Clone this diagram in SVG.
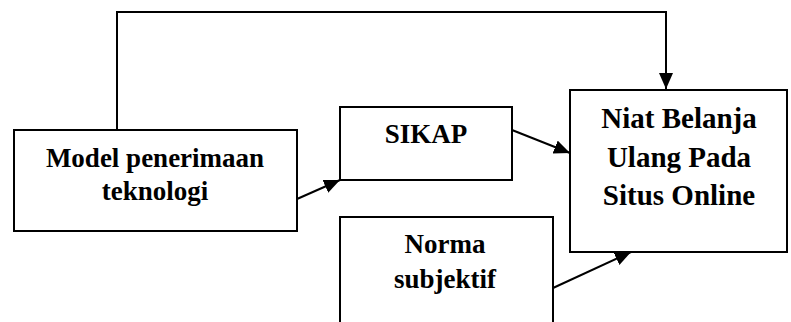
<svg xmlns="http://www.w3.org/2000/svg" width="791" height="322" viewBox="0 0 791 322">
<style>
.box{fill:#fff;stroke:#000;stroke-width:2}
.lbl{font-family:"Liberation Serif","Times New Roman",serif;font-weight:bold;font-size:27px;fill:#000;text-anchor:middle}
.big{font-size:29px}
.con{fill:none;stroke:#000;stroke-width:2}
</style>
<defs>
<marker id="ah" markerUnits="userSpaceOnUse" markerWidth="17" markerHeight="15" refX="16" refY="7" orient="auto">
<path d="M0,0 L16,7 L0,14 Z" fill="#000"/>
</marker>
</defs>
<rect width="791" height="322" fill="#fff"/>
<g id="connectors">
<path class="con" d="M117,130 V12 H666 V89" marker-end="url(#ah)"/>
<line class="con" x1="297" y1="199" x2="340" y2="180" marker-end="url(#ah)"/>
<line class="con" x1="512" y1="130" x2="570" y2="153" marker-end="url(#ah)"/>
<line class="con" x1="553" y1="288" x2="631" y2="252" marker-end="url(#ah)"/>
</g>
<g id="model">
<rect class="box" x="14" y="130" width="283" height="101"/>
<text class="lbl" x="155" y="167">Model penerimaan</text>
<text class="lbl" x="155" y="200">teknologi</text>
</g>
<g id="sikap">
<rect class="box" x="340" y="107" width="172" height="73"/>
<text class="lbl" x="426" y="143">SIKAP</text>
</g>
<g id="norma">
<path class="box" d="M340,330 V217 H553 V330"/>
<text class="lbl" x="445" y="253">Norma</text>
<text class="lbl" x="445" y="288">subjektif</text>
</g>
<g id="niat">
<rect class="box" x="570" y="90" width="217" height="162"/>
<text class="lbl big" x="679" y="128">Niat Belanja</text>
<text class="lbl big" x="679" y="167">Ulang Pada</text>
<text class="lbl big" x="679" y="205">Situs Online</text>
</g>
</svg>
